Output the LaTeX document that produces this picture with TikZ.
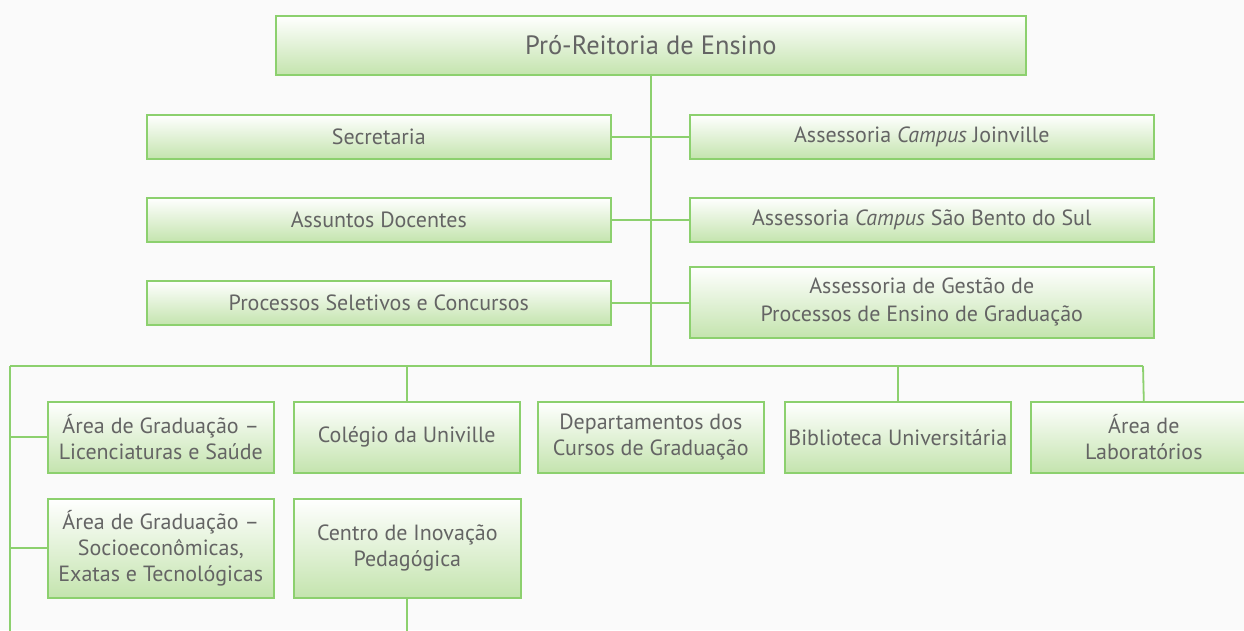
\documentclass[tikz,border=0pt]{standalone}
\usepackage{fontspec}
\setmainfont{PT Sans}
\begin{document}
\definecolor{gline}{RGB}{140,208,110}
\definecolor{gfill}{RGB}{196,228,174}
\definecolor{gtext}{RGB}{100,100,100}
\begin{tikzpicture}[x=1pt,y=-1pt,
  box/.style={draw=gline,line width=1.6pt,top color=white,bottom color=gfill,
    text=gtext,anchor=north west,inner sep=0pt,align=center,
    font=\fontsize{22}{26}\selectfont},
  conn/.style={draw=gline,line width=1.8pt}]
\useasboundingbox (0,0) rectangle (1244,630);
\fill[white!98!black] (0,0) rectangle (1244,630);
\begin{scope}
\clip (0,0) rectangle (1244,630);
\node[box,minimum width=750pt,minimum height=59pt,font=\fontsize{26.5}{30}\selectfont] (top) at (275,15) {Pró-Reitoria de Ensino};
\node[box,minimum width=464pt,minimum height=44pt] (sec) at (146,114) {Secretaria};
\node[box,minimum width=464pt,minimum height=44pt] (joi) at (689,114) {Assessoria \textit{Campus} Joinville};
\node[box,minimum width=464pt,minimum height=44pt] (doc) at (146,197) {Assuntos Docentes};
\node[box,minimum width=464pt,minimum height=44pt] (sbs) at (689,197) {Assessoria \textit{Campus} São Bento do Sul};
\node[box,minimum width=464pt,minimum height=44pt] (proc) at (146,280) {Processos Seletivos e Concursos};
\node[box,minimum width=464pt,minimum height=71pt,font=\fontsize{22}{28}\selectfont] (ges) at (689,266) {Assessoria de Gestão de\\Processos de Ensino de Graduação};
\node[box,minimum width=226pt,minimum height=71pt] (lic) at (47,401) {Área de Graduação –\\Licenciaturas e Saúde};
\node[box,minimum width=226pt,minimum height=71pt] (col) at (293,401) {Colégio da Univille};
\node[box,minimum width=226pt,minimum height=71pt] (dep) at (537,401) {Departamentos dos\\Cursos de Graduação};
\node[box,minimum width=226pt,minimum height=71pt] (bib) at (784,401) {Biblioteca Universitária};
\node[box,minimum width=226pt,minimum height=71pt] (lab) at (1030,401) {Área de\\Laboratórios};
\node[box,minimum width=226pt,minimum height=99pt] (soc) at (47,498) {Área de Graduação –\\Socioeconômicas,\\Exatas e Tecnológicas};
\node[box,minimum width=227pt,minimum height=99pt] (cip) at (293,498) {Centro de Inovação\\Pedagógica};
\coordinate (busL) at (10,366);
\coordinate (busR) at (1143,366);
\coordinate (botL) at (10,632);
\draw[conn] (top.south) -- (top.south |- busL);
\draw[conn] (sec.east) -- (joi.west);
\draw[conn] (doc.east) -- (sbs.west);
\draw[conn] (proc.east) -- (proc.east -| ges.west);
\draw[conn] (busL) -- (busR);
\draw[conn] (busL) -- (botL);
\draw[conn] (col.north) -- (col.north |- busL);
\draw[conn] (bib.north) -- (bib.north |- busL);
\draw[conn] (lab.north) -- (busR);
\draw[conn] (lic.west) -- (lic.west -| busL);
\draw[conn] (soc.west) -- (soc.west -| busL);
\draw[conn] (cip.south) -- (cip.south |- botL);
\end{scope}
\end{tikzpicture}
\end{document}
